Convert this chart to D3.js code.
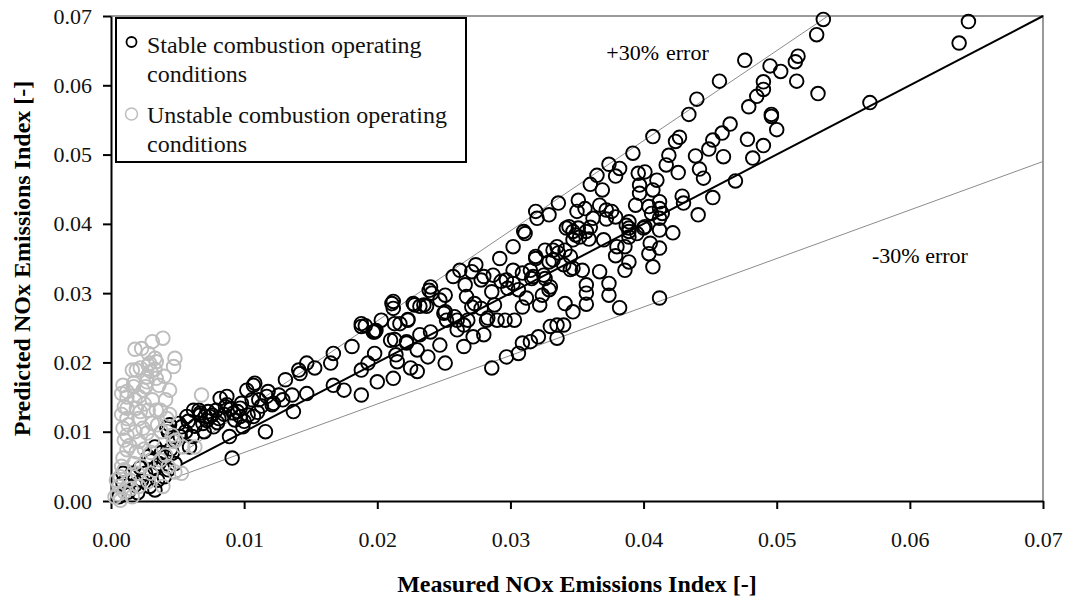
<!DOCTYPE html>
<html>
<head>
<meta charset="utf-8">
<script src="https://cdn.jsdelivr.net/npm/d3@7"></script>
<style>
  html, body { margin: 0; padding: 0; background: #fff; }
  svg { display: block; font-family: "Liberation Serif", "Times New Roman", serif; }
</style>
</head>
<body>
<svg id="chart" width="1070" height="603"></svg>
<script>
// ---------------- data ----------------
const xTicks = [0, 0.01, 0.02, 0.03, 0.04, 0.05, 0.06, 0.07];
const yTicks = [0, 0.01, 0.02, 0.03, 0.04, 0.05, 0.06, 0.07];

const xTitle = "Measured NOx Emissions Index [-]";
const yTitle = "Predicted NOx Emissions Index [-]";
const legendStable = ["Stable combustion operating", "conditions"];
const legendUnstable = ["Unstable combustion operating", "conditions"];

// reference lines: [xStart, xEnd, factor]
const perfectLine = [0.0053, 0.07, 1.0];
const plusLine = [0.0045, 0.07 / 1.3, 1.3];
const minusLine = [0.0045, 0.07, 0.7];

const stablePoints = [
[0.0535,0.0695],[0.0530,0.0673],[0.0516,0.0642],[0.0514,0.0634],[0.0515,0.0606],[0.0531,0.0588],[0.0570,0.0575],[0.0644,0.0692],[0.0637,0.0661],
[0.0476,0.0636],[0.0457,0.0606],[0.0440,0.0580],[0.0434,0.0558],[0.0495,0.0628],[0.0503,0.0620],[0.0490,0.0605],[0.0490,0.0594],[0.0485,0.0584],[0.0479,0.0569],[0.0496,0.0558],[0.0496,0.0555],[0.0500,0.0536],[0.0465,0.0544],[0.0459,0.0531],[0.0478,0.0522],[0.0490,0.0513],[0.0482,0.0495],[0.0452,0.0521],[0.0449,0.0508],[0.0460,0.0497],[0.0427,0.0525],[0.0424,0.0519],[0.0439,0.0498],[0.0442,0.0479],[0.0445,0.0466],[0.0419,0.0499],[0.0417,0.0485],[0.0426,0.0474],[0.0407,0.0526],[0.0469,0.0462],[0.0452,0.0438],[0.0441,0.0413],[0.0430,0.0430],[0.0429,0.0440],[0.0412,0.0432],[0.0412,0.0422],[0.0412,0.0391],[0.0422,0.0387],[0.0412,0.0365],[0.0407,0.0338],[0.0412,0.0293],[0.0407,0.0449],[0.0406,0.0415],
[0.0392,0.0502],[0.0382,0.0480],[0.0396,0.0473],[0.0401,0.0475],[0.0410,0.0463],[0.0397,0.0456],[0.0397,0.0444],[0.0394,0.0427],[0.0404,0.0425],[0.0414,0.0415],[0.0401,0.0396],[0.0387,0.0398],[0.0389,0.0389],[0.0405,0.0372],[0.0404,0.0357],[0.0386,0.0367],[0.0389,0.0345],[0.0386,0.0333],[0.0382,0.0279],
[0.0374,0.0486],[0.0379,0.0469],[0.0365,0.0470],[0.0360,0.0457],[0.0369,0.0449],[0.0351,0.0434],[0.0356,0.0422],[0.0350,0.0418],[0.0367,0.0427],[0.0376,0.0418],[0.0379,0.0410],[0.0372,0.0407],[0.0362,0.0408],[0.0360,0.0395],[0.0357,0.0389],[0.0351,0.0394],[0.0342,0.0394],[0.0349,0.0384],[0.0359,0.0378],[0.0370,0.0377],[0.0389,0.0403],[0.0389,0.0394],[0.0389,0.0381],[0.0400,0.0394],[0.0412,0.0408],[0.0380,0.0367],[0.0379,0.0354],[0.0395,0.0386],
[0.0341,0.0362],[0.0345,0.0353],[0.0335,0.0367],[0.0332,0.0362],[0.0336,0.0358],[0.0326,0.0362],[0.0319,0.0350],[0.0332,0.0348],[0.0340,0.0341],[0.0347,0.0336],[0.0354,0.0333],[0.0367,0.0331],[0.0374,0.0314],[0.0374,0.0297],[0.0357,0.0312],[0.0357,0.0300],[0.0357,0.0284],[0.0347,0.0273],[0.0341,0.0285],[0.0330,0.0309],[0.0326,0.0321],[0.0317,0.0324],[0.0315,0.0333],[0.0309,0.0329],[0.0302,0.0333],[0.0297,0.0319],[0.0302,0.0314],[0.0306,0.0305],[0.0312,0.0293],[0.0309,0.0280],[0.0303,0.0261],[0.0296,0.0261],[0.0290,0.0261],[0.0283,0.0264],[0.0322,0.0283],[0.0324,0.0297],[0.0335,0.0254],[0.0330,0.0252],[0.0340,0.0254],[0.0321,0.0237],[0.0315,0.0230],[0.0309,0.0228],[0.0306,0.0213],[0.0297,0.0208],[0.0286,0.0192],[0.0335,0.0235],
[0.0292,0.0350],[0.0302,0.0367],[0.0311,0.0386],[0.0319,0.0418],[0.0320,0.0408],[0.0329,0.0413],[0.0336,0.0430],[0.0344,0.0396],[0.0347,0.0389],[0.0352,0.0381],[0.0347,0.0377],[0.0286,0.0302],[0.0287,0.0326],[0.0280,0.0324],[0.0274,0.0341],[0.0271,0.0331],[0.0266,0.0312],[0.0257,0.0324],[0.0251,0.0297],[0.0251,0.0273],[0.0260,0.0247],[0.0265,0.0223],[0.0272,0.0237],[0.0280,0.0240],[0.0282,0.0261],[0.0260,0.0261],[0.0267,0.0295],[0.0271,0.0280],[0.0288,0.0283],[0.0278,0.0278],
[0.0251,0.0199],[0.0238,0.0208],[0.0230,0.0187],[0.0225,0.0192],[0.0230,0.0218],[0.0240,0.0244],[0.0222,0.0228],[0.0215,0.0201],[0.0212,0.0177],[0.0200,0.0172],[0.0198,0.0213],[0.0210,0.0232],[0.0213,0.0256],[0.0223,0.0261],[0.0241,0.0300],[0.0240,0.0309],[0.0228,0.0283],[0.0235,0.0283],[0.0211,0.0285],[0.0203,0.0261],[0.0198,0.0244],[0.0188,0.0252],[0.0181,0.0223],[0.0167,0.0213],[0.0165,0.0199],[0.0153,0.0192],[0.0147,0.0199],[0.0188,0.0189],[0.0193,0.0199],[0.0167,0.0167],[0.0147,0.0155],[0.0175,0.0160],[0.0188,0.0153],[0.0278,0.0319],[0.0247,0.0290],[0.0293,0.0317],[0.0298,0.0307],[0.0316,0.0321],[0.0329,0.0305],
[0.0372,0.0420],[0.0310,0.0389],[0.0319,0.0353],[0.0329,0.0345],[0.0345,0.0334],[0.0262,0.0333],[0.0325,0.0326],[0.0273,0.0285],[0.0268,0.0261],
[0.0239,0.0304],[0.0227,0.0285],[0.0232,0.0281],[0.0237,0.0281],[0.0212,0.0288],[0.0212,0.0278],[0.0223,0.0262],[0.0217,0.0256],[0.0188,0.0256],[0.0198,0.0245],[0.0199,0.0246],[0.0197,0.0244],[0.0213,0.0233],[0.0222,0.0230],[0.0232,0.0240],[0.0252,0.0261],[0.0250,0.0271],[0.0258,0.0266],[0.0265,0.0254],[0.0247,0.0225],[0.0214,0.0211],[0.0141,0.0189],[0.0137,0.0129],[0.0136,0.0153],[0.0131,0.0175],[0.0129,0.0146],
[0.0191,0.0253],[0.0142,0.0184],[0.0126,0.0153],[0.0122,0.0141],[0.0107,0.0167],[0.0102,0.0160],[0.0111,0.0146],[0.0117,0.0151],[0.0097,0.0134],[0.0082,0.0148],[0.0087,0.0139],[0.0092,0.0127],[0.0074,0.0122],[0.0067,0.0127],[0.0062,0.0131],[0.0069,0.0112],[0.0077,0.0107],[0.0097,0.0122],[0.0107,0.0122],[0.0116,0.0100],[0.0053,0.0107],[0.0042,0.0105],
[0.0108,0.0170],[0.0106,0.0146],[0.0098,0.0141],[0.0087,0.0151],[0.0086,0.0136],[0.0079,0.0131],[0.0073,0.0129],[0.0066,0.0131],[0.0081,0.0119],[0.0071,0.0122],[0.0099,0.0107],[0.0089,0.0093],[0.0091,0.0062],[0.0057,0.0122],[0.0051,0.0112],[0.0044,0.0110],[0.0043,0.0100],[0.0052,0.0093],[0.0061,0.0093],[0.0059,0.0078],[0.0033,0.0078],[0.0028,0.0064],[0.0036,0.0054],[0.0041,0.0064],[0.0046,0.0069],[0.0033,0.0047],[0.0026,0.0040],[0.0016,0.0040],[0.0009,0.0040],[0.0009,0.0026],[0.0018,0.0023],[0.0023,0.0030],[0.0029,0.0021],[0.0033,0.0016],[0.0006,0.0006],[0.0013,0.0013],[0.0048,0.0054],[0.0043,0.0045],
[0.0067,0.0124],[0.0076,0.0124],[0.0093,0.0117],[0.0103,0.0124],[0.0121,0.0139],[0.0118,0.0158],
[0.0058,0.0115],[0.0063,0.0108],[0.0072,0.0116],[0.0080,0.0113],[0.0085,0.0125],[0.0090,0.0133],[0.0095,0.0129],[0.0100,0.0115],[0.0110,0.0128],[0.0113,0.0137],[0.0070,0.0100],[0.0056,0.0100],[0.0048,0.0088],[0.0038,0.0070],[0.0030,0.0058],[0.0022,0.0048],[0.0040,0.0035],[0.0045,0.0075],[0.0035,0.0030],[0.0020,0.0012]
];

const unstablePoints = [
[0.0039,0.0235],[0.0031,0.0230],[0.0023,0.0220],[0.0018,0.0219],[0.0028,0.0213],[0.0048,0.0206],[0.0047,0.0194],[0.0034,0.0201],[0.0029,0.0199],[0.0022,0.0192],[0.0016,0.0189],[0.0009,0.0167],[0.0012,0.0158],[0.0017,0.0170],[0.0027,0.0172],[0.0036,0.0167],[0.0041,0.0146],[0.0031,0.0146],[0.0018,0.0146],[0.0012,0.0134],[0.0022,0.0129],[0.0034,0.0131],[0.0042,0.0119],[0.0013,0.0110],[0.0024,0.0105],[0.0068,0.0153],
[0.0033,0.0206],[0.0028,0.0196],[0.0019,0.0189],[0.0027,0.0179],[0.0034,0.0177],[0.0017,0.0165],[0.0026,0.0165],[0.0021,0.0151],[0.0010,0.0136],[0.0019,0.0134],[0.0028,0.0131],[0.0037,0.0131],[0.0012,0.0119],[0.0021,0.0119],[0.0031,0.0112],[0.0009,0.0105],[0.0018,0.0100],[0.0027,0.0098],[0.0010,0.0088],[0.0021,0.0086],[0.0012,0.0074],[0.0019,0.0071],[0.0009,0.0062],[0.0017,0.0054],[0.0023,0.0050],[0.0010,0.0045],[0.0007,0.0035],[0.0014,0.0030],[0.0006,0.0021],[0.0010,0.0013],[0.0003,0.0006],[0.0007,0.0001],[0.0016,0.0006],[0.0021,0.0021],[0.0028,0.0028],[0.0039,0.0021],[0.0048,0.0042],[0.0053,0.0040],[0.0047,0.0086],[0.0049,0.0088],[0.0063,0.0078],[0.0037,0.0059],[0.0041,0.0066],[0.0043,0.0050],[0.0046,0.0095],[0.0054,0.0078],[0.0012,0.0150],[0.0008,0.0125],[0.0024,0.0160],[0.0030,0.0187],[0.0004,0.0030],[0.0012,0.0095],[0.0031,0.0087],[0.0025,0.0075],[0.0005,0.0010],[0.0015,0.0018],[0.0008,0.0050],[0.0020,0.0040],[0.0030,0.0040],
[0.0033,0.0190],[0.0040,0.0180],[0.0044,0.0160],[0.0038,0.0100],[0.0044,0.0125],[0.0014,0.0080],[0.0030,0.0070],[0.0035,0.0110],[0.0025,0.0140],[0.0008,0.0155]
];

// ---------------- drawing ----------------
const svg = d3.select("#chart");
const margin = { left: 111, right: 1043, top: 16, bottom: 501 };
const FONT = "'Liberation Serif', 'Times New Roman', serif";

const x = d3.scaleLinear().domain([0, 0.07]).range([margin.left, margin.right]);
const y = d3.scaleLinear().domain([0, 0.07]).range([margin.bottom, margin.top]);

// plot frame (top & right, gray)
svg.append("path")
  .attr("d", `M${x(0)},${y(0.07)}H${x(0.07)}V${y(0)}`)
  .attr("fill", "none").attr("stroke", "#9a9a9a").attr("stroke-width", 2);

// reference lines
function refLine(spec, color, width) {
  const [x0, x1, f] = spec;
  svg.append("line")
    .attr("x1", x(x0)).attr("y1", y(x0 * f))
    .attr("x2", x(x1)).attr("y2", y(x1 * f))
    .attr("stroke", color).attr("stroke-width", width);
}
refLine(plusLine, "#8c8c8c", 1);
refLine(minusLine, "#8c8c8c", 1);
refLine(perfectLine, "#000", 2);

// axes
const xAxis = d3.axisBottom(x).tickValues(xTicks).tickFormat(d3.format(".2f"))
  .tickSize(8).tickSizeOuter(0).tickPadding(22);
const yAxis = d3.axisLeft(y).tickValues(yTicks).tickFormat(d3.format(".2f"))
  .tickSize(8).tickSizeOuter(0).tickPadding(11);

const gx = svg.append("g").attr("transform", `translate(0,${margin.bottom})`).call(xAxis);
const gy = svg.append("g").attr("transform", `translate(${margin.left},0)`).call(yAxis);
[gx, gy].forEach(g => {
  g.select(".domain").attr("stroke", "#000").attr("stroke-width", 2);
  g.selectAll(".tick line").attr("stroke", "#000").attr("stroke-width", 2);
  g.selectAll(".tick text").attr("font-family", FONT).attr("font-size", 22).attr("fill", "#111");
});

// points
svg.append("g").selectAll("circle").data(stablePoints).join("circle")
  .attr("cx", d => x(d[0])).attr("cy", d => y(d[1])).attr("r", 6.8)
  .attr("fill", "none").attr("stroke", "#000").attr("stroke-width", 1.9);
svg.append("g").selectAll("circle").data(unstablePoints).join("circle")
  .attr("cx", d => x(d[0])).attr("cy", d => y(d[1])).attr("r", 6.8)
  .attr("fill", "none").attr("stroke", "#bdbdbd").attr("stroke-width", 1.9);

// annotations
svg.append("text").attr("x", 659).attr("y", 60).attr("text-anchor", "end")
  .attr("font-family", FONT).attr("font-size", 22).text("+30%");
svg.append("text").attr("x", 666).attr("y", 60)
  .attr("font-family", FONT).attr("font-size", 22).text("error");
svg.append("text").attr("x", 872).attr("y", 263)
  .attr("font-family", FONT).attr("font-size", 22).text("-30% error");

// legend
const lg = svg.append("g");
lg.append("rect").attr("x", 116).attr("y", 18).attr("width", 350).attr("height", 144)
  .attr("fill", "#fff").attr("stroke", "#000").attr("stroke-width", 2);
lg.append("circle").attr("cx", 131.5).attr("cy", 42).attr("r", 5)
  .attr("fill", "none").attr("stroke", "#000").attr("stroke-width", 1.8);
lg.append("circle").attr("cx", 131.5).attr("cy", 114).attr("r", 6)
  .attr("fill", "none").attr("stroke", "#bdbdbd").attr("stroke-width", 1.5);
const legendLines = [
  [legendStable[0], 53], [legendStable[1], 82],
  [legendUnstable[0], 123], [legendUnstable[1], 152]
];
legendLines.forEach(([t, yy]) => {
  lg.append("text").attr("x", 147).attr("y", yy)
    .attr("font-family", FONT).attr("font-size", 24).attr("fill", "#111").text(t);
});

// axis titles
svg.append("text").attr("x", (margin.left + margin.right) / 2).attr("y", 592)
  .attr("text-anchor", "middle").attr("font-family", FONT).attr("font-weight", "bold")
  .attr("font-size", 24).text(xTitle);
svg.append("text")
  .attr("transform", `translate(30,${(margin.top + margin.bottom) / 2}) rotate(-90)`)
  .attr("text-anchor", "middle").attr("font-family", FONT).attr("font-weight", "bold")
  .attr("font-size", 24).text(yTitle);
</script>
</body>
</html>
